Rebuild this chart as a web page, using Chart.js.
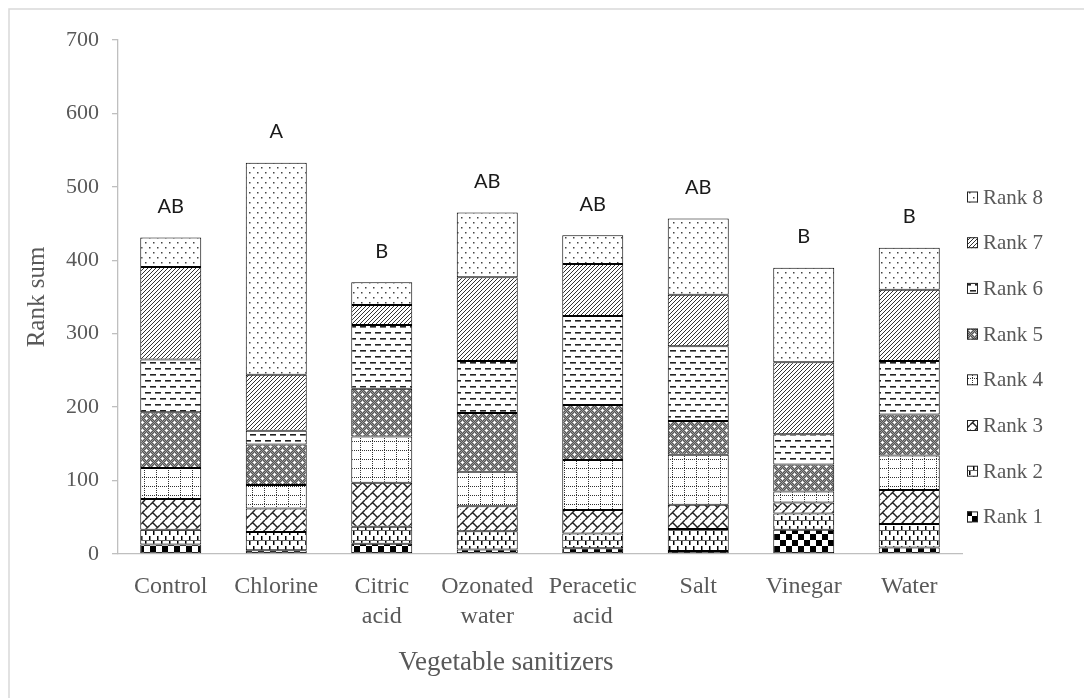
<!DOCTYPE html>
<html>
<head>
<meta charset="utf-8">
<script src="https://cdn.jsdelivr.net/npm/chart.js@4.4.1/dist/chart.umd.min.js"></script>
<style>
  html, body { margin: 0; padding: 0; background: #fff; }
  #wrap { width: 1084px; height: 698px; }
</style>
</head>
<body>
<div id="wrap"><canvas id="rankChart"></canvas></div>
<script>
// categories along the x axis
const sanitizers = [['Control'], ['Chlorine'], ['Citric', 'acid'], ['Ozonated', 'water'],
  ['Peracetic', 'acid'], ['Salt'], ['Vinegar'], ['Water']];

// stacked rank sums, one array per rank (order follows sanitizers)
const rank1 = [13, 5, 14, 6, 8, 4, 33, 9];
const rank2 = [20, 25, 23, 25, 20, 30, 22, 32];
const rank3 = [42, 32, 60, 34, 32, 33, 15, 46];
const rank4 = [42, 32, 63, 47, 68, 68, 15, 47];
const rank5 = [76, 55, 65, 80, 75, 46, 37, 56];
const rank6 = [72, 19, 87, 71, 121, 102, 41, 73];
const rank7 = [126, 76, 27, 114, 71, 70, 98, 97];
const rank8 = [40, 289, 31, 88, 39, 104, 129, 57];

// significance letters above the bars
const letters = ['AB', 'A', 'B', 'AB', 'AB', 'AB', 'B', 'B'];

const yTicks = [0, 100, 200, 300, 400, 500, 600, 700];

const grey = '#595959';
const serif = '"Liberation Serif", "Times New Roman", serif';

// small tiles used as fill patterns (black & white like the original)
function tile(w, h, draw) {
  const c = document.createElement('canvas');
  c.width = w; c.height = h;
  const g = c.getContext('2d');
  g.fillStyle = '#fff';
  g.fillRect(0, 0, w, h);
  g.fillStyle = '#000';
  g.strokeStyle = '#000';
  draw(g, w, h);
  return c.getContext('2d').createPattern(c, 'repeat');
}

const patterns = [
  // rank 1: checkerboard
  tile(12, 12, g => { g.fillRect(0, 0, 6, 6); g.fillRect(6, 6, 6, 6); }),
  // rank 2: short vertical dashes
  tile(8, 10, g => { g.fillRect(1, 1, 1.5, 4); g.fillRect(5, 6, 1.5, 4); g.fillRect(0, 0, 8, 0.6); }),
  // rank 3: weave / zigzag
  tile(10, 10, g => {
    g.lineWidth = 1.5;
    g.strokeStyle = '#222';
    g.beginPath();
    g.moveTo(0, 5); g.lineTo(5, 0);
    g.moveTo(5, 10); g.lineTo(10, 5);
    g.moveTo(2, 2); g.lineTo(8, 8);
    g.moveTo(-1, 9); g.lineTo(1, 11);
    g.stroke();
  }),
  // rank 4: dotted grid
  tile(12, 9, g => {
    g.fillStyle = '#333';
    for (let x = 0; x < 12; x += 2) g.fillRect(x, 0, 1, 1);
    for (let y = 0; y < 9; y += 2) g.fillRect(0, y, 1, 1);
  }),
  // rank 5: dark stipple with white crosses
  tile(8, 8, g => {
    g.fillStyle = '#555';
    g.fillRect(0, 0, 8, 8);
    g.fillStyle = '#9a9a9a';
    for (let y = 0; y < 8; y++) for (let x = 0; x < 8; x++) if ((x + y) % 2 === 0) g.fillRect(x, y, 1, 1);
    g.fillStyle = '#fff';
    g.fillRect(1, 2, 3, 1); g.fillRect(2, 1, 1, 3);
    g.fillRect(5, 6, 3, 1); g.fillRect(6, 5, 1, 3);
  }),
  // rank 6: horizontal dashes
  tile(10, 12, g => {
    g.fillStyle = '#222';
    g.fillRect(0, 2, 6, 1.6);
    g.fillRect(5, 8, 5, 1.6); g.fillRect(0, 8, 1, 1.6);
  }),
  // rank 7: dense up-diagonal lines
  tile(4, 4, g => {
    g.fillStyle = '#333';
    for (let i = 0; i < 4; i++) g.fillRect(i, 3 - i, 1, 1);
  }),
  // rank 8: sparse dots
  tile(8, 10, g => {
    g.fillStyle = '#444';
    g.fillRect(1, 2, 1.5, 1.5);
    g.fillRect(5, 7, 1.5, 1.5);
  })
];

const ranks = [rank1, rank2, rank3, rank4, rank5, rank6, rank7, rank8];
const datasets = ranks.map((vals, i) => ({
  label: 'Rank ' + (i + 1),
  data: vals,
  backgroundColor: patterns[i],
  borderColor: '#000',
  borderWidth: 1,
  borderSkipped: false,
  barPercentage: 0.578,
  categoryPercentage: 1
}));

// white page with the faint frame at top and left
const framePlugin = {
  id: 'frame',
  beforeDraw(chart) {
    const ctx = chart.ctx;
    ctx.save();
    ctx.fillStyle = '#fff';
    ctx.fillRect(0, 0, chart.width, chart.height);
    ctx.strokeStyle = '#d9d9d9';
    ctx.lineWidth = 1.5;
    ctx.beginPath();
    ctx.moveTo(9, chart.height);
    ctx.lineTo(9, 9);
    ctx.lineTo(chart.width, 9);
    ctx.stroke();
    ctx.restore();
  }
};

// letters above every stack, plus the x axis title (sits left of centre)
const lettersPlugin = {
  id: 'letters',
  afterDatasetsDraw(chart) {
    const ctx = chart.ctx;
    const y = chart.scales.y;
    const top = chart.getDatasetMeta(chart.data.datasets.length - 1);
    ctx.save();
    ctx.font = '20px Lato, "Liberation Sans", sans-serif';
    ctx.fillStyle = '#1a1a1a';
    ctx.textAlign = 'center';
    ctx.textBaseline = 'middle';
    letters.forEach((t, i) => {
      const total = ranks.reduce((s, r) => s + r[i], 0);
      ctx.fillText(t, top.data[i].x, y.getPixelForValue(total) - 31);
    });
    ctx.font = '27px ' + serif;
    ctx.fillStyle = grey;
    ctx.fillText('Vegetable sanitizers', 506, 663);
    ctx.restore();
  }
};

// legend on the right, Rank 8 at the top
const legendPlugin = {
  id: 'sideLegend',
  afterDraw(chart) {
    const ctx = chart.ctx;
    const ds = chart.data.datasets;
    ctx.save();
    ctx.font = '21px ' + serif;
    ctx.textBaseline = 'middle';
    for (let k = ds.length - 1, row = 0; k >= 0; k--, row++) {
      const cy = 197 + row * 45.7;
      ctx.fillStyle = ds[k].backgroundColor;
      ctx.fillRect(967, cy - 5.5, 11, 11);
      ctx.strokeStyle = '#222';
      ctx.lineWidth = 1;
      ctx.strokeRect(967.5, cy - 5, 10, 10);
      ctx.fillStyle = grey;
      ctx.fillText(ds[k].label, 983, cy + 1);
    }
    ctx.restore();
  }
};

new Chart(document.getElementById('rankChart'), {
  type: 'bar',
  data: { labels: sanitizers, datasets: datasets },
  plugins: [framePlugin, lettersPlugin, legendPlugin],
  options: {
    responsive: true,
    maintainAspectRatio: false,
    animation: false,
    layout: { padding: { left: 0, right: 122, top: 40, bottom: 0 } },
    plugins: { legend: { display: false }, tooltip: { enabled: false } },
    scales: {
      x: {
        stacked: true,
        grid: { display: false, drawTicks: false },
        border: { display: true, color: '#bfbfbf', width: 1.3 },
        ticks: {
          color: grey, padding: 18, autoSkip: false, maxRotation: 0,
          font: { family: serif, size: 24, lineHeight: 1.25 }
        },
        afterFit(s) { s.height = 144; }
      },
      y: {
        stacked: true,
        min: 0, max: 700,
        afterBuildTicks(s) { s.ticks = yTicks.map(v => ({ value: v })); },
        grid: { drawOnChartArea: false, drawTicks: true, tickLength: 6, color: '#bfbfbf', lineWidth: 1.3 },
        border: { display: true, color: '#bfbfbf', width: 1.3 },
        ticks: { color: grey, padding: 13, font: { family: serif, size: 22 } },
        title: {
          display: true, text: 'Rank sum', color: grey,
          font: { family: serif, size: 25 }, padding: { top: 22, bottom: 0 }
        },
        afterFit(s) { s.width = 118; }
      }
    }
  }
});
</script>
</body>
</html>
